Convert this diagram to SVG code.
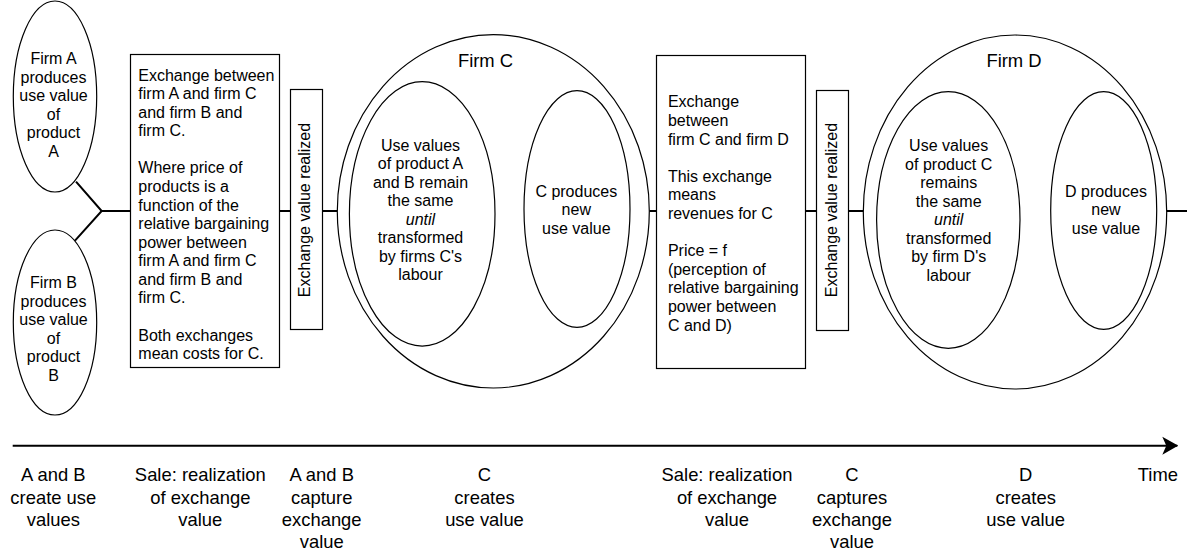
<svg xmlns="http://www.w3.org/2000/svg" width="1187" height="550" viewBox="0 0 1187 550">
<style>
  .shape { fill: #ffffff; stroke: #000000; stroke-width: 1.2; }
  .conn { fill: none; stroke: #000000; stroke-width: 2; }
  text { font-family: "Liberation Sans", Arial, sans-serif; fill: #000000; }
  .t16 { font-size: 16px; }
  .t18 { font-size: 18.4px; }
  .mid { text-anchor: middle; }
  .it { font-style: italic; }
</style>
<defs>
  <marker id="arrow" markerWidth="16" markerHeight="20" viewBox="0 0 16 20" refX="15" refY="10" markerUnits="userSpaceOnUse" orient="auto">
    <path d="M16,10 L0,1 L4,10 L0,19 Z" fill="#000000"/>
  </marker>
</defs>
<rect width="1187" height="550" fill="#ffffff"/>

<g id="connectors">
  <polyline class="conn" points="76,181.7 101.7,211 75,240.7"/>
  <line class="conn" x1="101.7" y1="211" x2="130.5" y2="211"/>
  <line class="conn" x1="279.5" y1="211" x2="290.5" y2="211"/>
  <line class="conn" x1="322.5" y1="211" x2="337.5" y2="211"/>
  <line class="conn" x1="495" y1="211" x2="524" y2="211"/>
  <line class="conn" x1="649.3" y1="211" x2="656.5" y2="211"/>
  <line class="conn" x1="805.5" y1="211" x2="816.5" y2="211"/>
  <line class="conn" x1="848.5" y1="211" x2="863.5" y2="211"/>
  <line class="conn" x1="1020" y1="211" x2="1050.7" y2="211"/>
  <line class="conn" x1="1166.7" y1="211" x2="1187" y2="211"/>
</g>

<g id="firmA">
  <ellipse class="shape" cx="55" cy="96.5" rx="41.7" ry="95.5"/>
  <text class="t16 mid" x="53.5" y="64.3">Firm A</text>
  <text class="t16 mid" x="53.5" y="82.8">produces</text>
  <text class="t16 mid" x="53.5" y="101.3">use value</text>
  <text class="t16 mid" x="53.5" y="119.8">of</text>
  <text class="t16 mid" x="53.5" y="138.3">product</text>
  <text class="t16 mid" x="53.5" y="156.8">A</text>
</g>

<g id="firmB">
  <ellipse class="shape" cx="55" cy="322.5" rx="41.7" ry="92.5"/>
  <text class="t16 mid" x="53.5" y="288.3">Firm B</text>
  <text class="t16 mid" x="53.5" y="306.8">produces</text>
  <text class="t16 mid" x="53.5" y="325.3">use value</text>
  <text class="t16 mid" x="53.5" y="343.8">of</text>
  <text class="t16 mid" x="53.5" y="362.3">product</text>
  <text class="t16 mid" x="53.5" y="380.8">B</text>
</g>

<g id="exchange1">
  <rect class="shape" x="130.5" y="54.5" width="149" height="313"/>
  <text class="t16" x="138.3" y="80.5">Exchange between</text>
  <text class="t16" x="138.3" y="99.1">firm A and firm C</text>
  <text class="t16" x="138.3" y="117.6">and firm B and</text>
  <text class="t16" x="138.3" y="136.2">firm C.</text>
  <text class="t16" x="138.3" y="173.4">Where price of</text>
  <text class="t16" x="138.3" y="192">products is a</text>
  <text class="t16" x="138.3" y="210.5">function of the</text>
  <text class="t16" x="138.3" y="229.1">relative bargaining</text>
  <text class="t16" x="138.3" y="247.7">power between</text>
  <text class="t16" x="138.3" y="266.3">firm A and firm C</text>
  <text class="t16" x="138.3" y="284.9">and firm B and</text>
  <text class="t16" x="138.3" y="303.4">firm C.</text>
  <text class="t16" x="138.3" y="340.6">Both exchanges</text>
  <text class="t16" x="138.3" y="359.2">mean costs for C.</text>
</g>

<g id="realized1">
  <rect class="shape" x="290.5" y="89.5" width="32" height="240"/>
  <text class="t16 mid" transform="translate(309.5,210) rotate(-90)">Exchange value realized</text>
</g>

<g id="firmC">
  <ellipse class="shape" cx="493.3" cy="211.3" rx="156" ry="176.7"/>
  <text class="t18 mid" x="485.5" y="66.7">Firm C</text>
  <ellipse class="shape" cx="422.2" cy="213.9" rx="72.8" ry="132.2"/>
  <text class="t16 mid" x="420.5" y="150.7">Use values</text>
  <text class="t16 mid" x="420.5" y="169.2">of product A</text>
  <text class="t16 mid" x="420.5" y="187.7">and B remain</text>
  <text class="t16 mid" x="420.5" y="206.2">the same</text>
  <text class="t16 mid it" x="420.5" y="224.7">until</text>
  <text class="t16 mid" x="420.5" y="243.2">transformed</text>
  <text class="t16 mid" x="420.5" y="261.7">by firms C's</text>
  <text class="t16 mid" x="420.5" y="280.2">labour</text>
  <ellipse class="shape" cx="577" cy="209" rx="53" ry="118.3"/>
  <text class="t16 mid" x="576.3" y="196.7">C produces</text>
  <text class="t16 mid" x="576.3" y="215.2">new</text>
  <text class="t16 mid" x="576.3" y="233.7">use value</text>
</g>

<g id="exchange2">
  <rect class="shape" x="656.5" y="55.5" width="149" height="313"/>
  <text class="t16" x="667.9" y="107.3">Exchange</text>
  <text class="t16" x="667.9" y="125.9">between</text>
  <text class="t16" x="667.9" y="144.5">firm C and firm D</text>
  <text class="t16" x="667.9" y="181.7">This exchange</text>
  <text class="t16" x="667.9" y="200.3">means</text>
  <text class="t16" x="667.9" y="218.9">revenues for C</text>
  <text class="t16" x="667.9" y="256.1">Price = f</text>
  <text class="t16" x="667.9" y="274.7">(perception of</text>
  <text class="t16" x="667.9" y="293.3">relative bargaining</text>
  <text class="t16" x="667.9" y="311.9">power between</text>
  <text class="t16" x="667.9" y="330.5">C and D)</text>
</g>

<g id="realized2">
  <rect class="shape" x="816.5" y="90.5" width="32" height="240"/>
  <text class="t16 mid" transform="translate(836.5,210) rotate(-90)">Exchange value realized</text>
</g>

<g id="firmD">
  <ellipse class="shape" cx="1015" cy="212" rx="151.7" ry="177"/>
  <text class="t18 mid" x="1014" y="66.7">Firm D</text>
  <ellipse class="shape" cx="948.3" cy="220" rx="71.7" ry="128.3"/>
  <text class="t16 mid" x="948.7" y="151">Use values</text>
  <text class="t16 mid" x="948.7" y="169.5">of product C</text>
  <text class="t16 mid" x="948.7" y="188">remains</text>
  <text class="t16 mid" x="948.7" y="206.5">the same</text>
  <text class="t16 mid it" x="948.7" y="225">until</text>
  <text class="t16 mid" x="948.7" y="243.5">transformed</text>
  <text class="t16 mid" x="948.7" y="262">by firm D's</text>
  <text class="t16 mid" x="948.7" y="280.5">labour</text>
  <ellipse class="shape" cx="1103.7" cy="210.5" rx="53" ry="118.8"/>
  <text class="t16 mid" x="1106" y="196.7">D produces</text>
  <text class="t16 mid" x="1106" y="215.2">new</text>
  <text class="t16 mid" x="1106" y="233.7">use value</text>
</g>

<g id="timeline">
  <line class="conn" x1="12.7" y1="445.7" x2="1177.3" y2="445.7" marker-end="url(#arrow)"/>
</g>

<g id="labels">
  <text class="t18 mid" x="53.3" y="481">A and B</text>
  <text class="t18 mid" x="53.3" y="503.5">create use</text>
  <text class="t18 mid" x="53.3" y="526">values</text>

  <text class="t18 mid" x="200.3" y="481">Sale: realization</text>
  <text class="t18 mid" x="200.3" y="503.5">of exchange</text>
  <text class="t18 mid" x="200.3" y="526">value</text>

  <text class="t18 mid" x="321.7" y="481">A and B</text>
  <text class="t18 mid" x="321.7" y="503.5">capture</text>
  <text class="t18 mid" x="321.7" y="526">exchange</text>
  <text class="t18 mid" x="321.7" y="547.5">value</text>

  <text class="t18 mid" x="484.5" y="481">C</text>
  <text class="t18 mid" x="484.5" y="503.5">creates</text>
  <text class="t18 mid" x="484.5" y="526">use value</text>

  <text class="t18 mid" x="727" y="481">Sale: realization</text>
  <text class="t18 mid" x="727" y="503.5">of exchange</text>
  <text class="t18 mid" x="727" y="526">value</text>

  <text class="t18 mid" x="852" y="481">C</text>
  <text class="t18 mid" x="852" y="503.5">captures</text>
  <text class="t18 mid" x="852" y="526">exchange</text>
  <text class="t18 mid" x="852" y="547.5">value</text>

  <text class="t18 mid" x="1025.7" y="481">D</text>
  <text class="t18 mid" x="1025.7" y="503.5">creates</text>
  <text class="t18 mid" x="1025.7" y="526">use value</text>

  <text class="t18 mid" x="1157.9" y="481">Time</text>
</g>
</svg>
